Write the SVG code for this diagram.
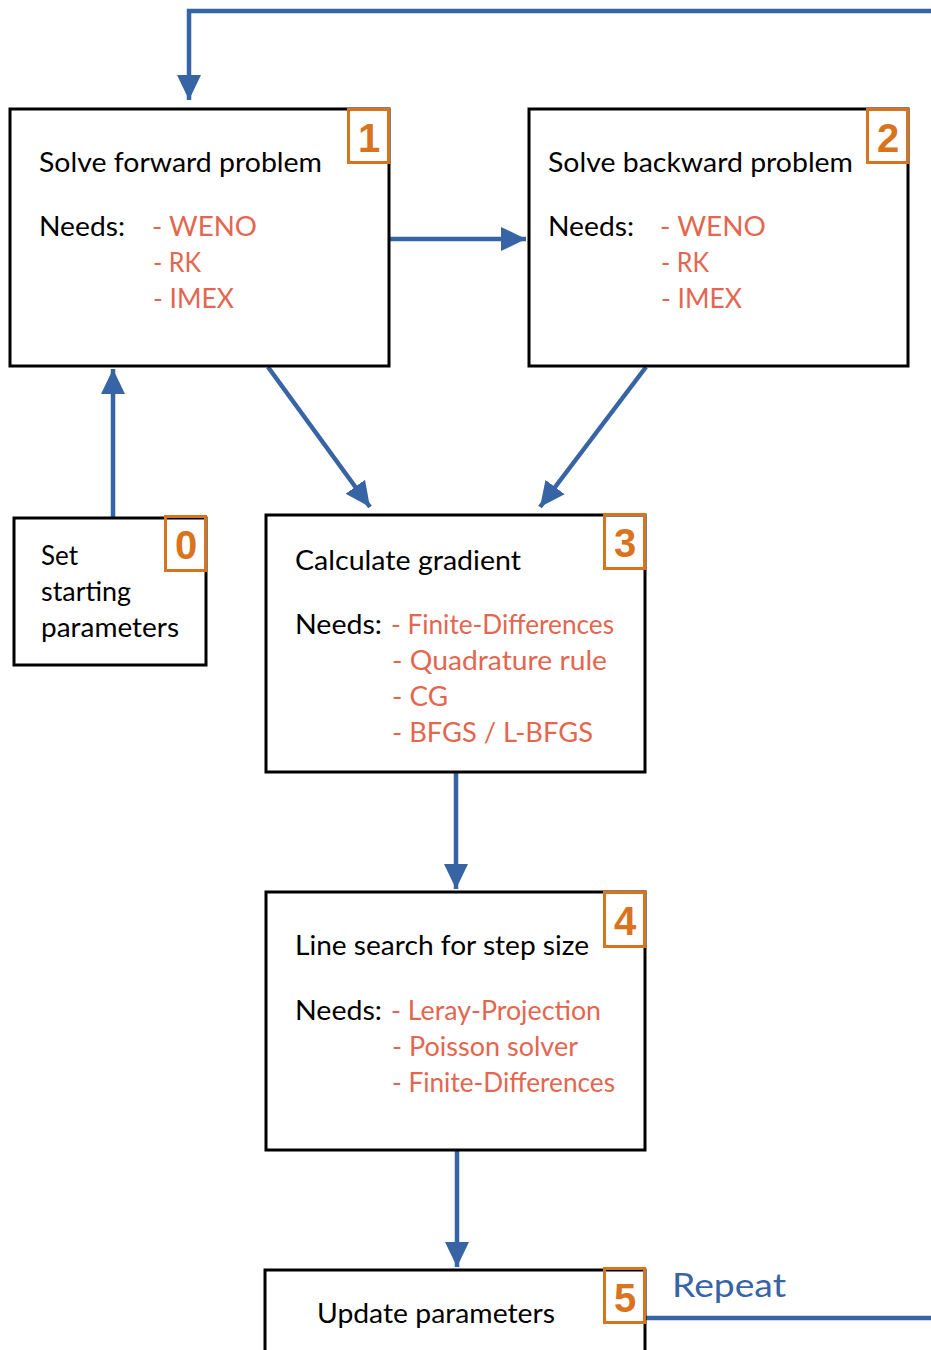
<svg xmlns="http://www.w3.org/2000/svg" width="931" height="1350" viewBox="0 0 931 1350">
<style>
.box{fill:#fff;stroke:#000;stroke-width:3}
.badge{fill:none;stroke:#D9731E;stroke-width:3}
.num{font-family:"Liberation Sans",Arial,sans-serif;font-weight:bold;font-size:40px;fill:#D9731E;text-anchor:middle}
.t{font-family:Lato,"Open Sans",sans-serif;font-size:27px;fill:#000}
.r{font-family:Lato,"Open Sans",sans-serif;font-size:27px;fill:#E4664F}
.con{fill:none;stroke:#3764A4;stroke-width:4.5}
.rep{font-family:Lato,"Open Sans",sans-serif;font-size:33px;fill:#3764A4}
</style>
<defs>
<marker id="ah" markerUnits="userSpaceOnUse" markerWidth="26" markerHeight="26" refX="25" refY="12" orient="auto" viewBox="0 0 26 24">
<path d="M0,0 L25,12 L0,24 Z" fill="#3764A4"/>
</marker>
</defs>
<g id="connectors">
<path class="con" d="M645,1318 H945 V11 H189 V100" marker-end="url(#ah)"/>
<path class="con" d="M389,239 H526" marker-end="url(#ah)"/>
<path class="con" d="M113,518 V369" marker-end="url(#ah)"/>
<path class="con" d="M268,367 L370,507" marker-end="url(#ah)"/>
<path class="con" d="M646,367 L540,507" marker-end="url(#ah)"/>
<path class="con" d="M456,772 V889" marker-end="url(#ah)"/>
<path class="con" d="M457,1150 V1267" marker-end="url(#ah)"/>
</g>
<g id="node1">
<rect class="box" x="10" y="109" width="379" height="257"/>
<rect class="badge" x="348.5" y="109.5" width="40" height="53"/>
<text class="num" x="369" y="152">1</text>
<text class="t" x="39" y="172" textLength="283" lengthAdjust="spacingAndGlyphs">Solve forward problem</text>
<text class="t" x="39" y="236" textLength="86" lengthAdjust="spacingAndGlyphs">Needs:</text>
<text class="r" x="152" y="236" textLength="105" lengthAdjust="spacingAndGlyphs">- WENO</text>
<text class="r" x="153" y="272" textLength="48" lengthAdjust="spacingAndGlyphs">- RK</text>
<text class="r" x="153" y="308" textLength="81" lengthAdjust="spacingAndGlyphs">- IMEX</text>
</g>
<g id="node2">
<rect class="box" x="529" y="109" width="379" height="257"/>
<rect class="badge" x="867.5" y="109.5" width="40" height="53"/>
<text class="num" x="888" y="152">2</text>
<text class="t" x="548" y="172" textLength="305" lengthAdjust="spacingAndGlyphs">Solve backward problem</text>
<text class="t" x="548" y="236" textLength="86" lengthAdjust="spacingAndGlyphs">Needs:</text>
<text class="r" x="660" y="236" textLength="106" lengthAdjust="spacingAndGlyphs">- WENO</text>
<text class="r" x="661" y="272" textLength="48" lengthAdjust="spacingAndGlyphs">- RK</text>
<text class="r" x="661" y="308" textLength="81" lengthAdjust="spacingAndGlyphs">- IMEX</text>
</g>
<g id="node0">
<rect class="box" x="14" y="518" width="192" height="147"/>
<rect class="badge" x="165.5" y="516.5" width="40" height="54"/>
<text class="num" x="186" y="559">0</text>
<text class="t" x="41" y="565" textLength="37" lengthAdjust="spacingAndGlyphs">Set</text>
<text class="t" x="41" y="601" textLength="90" lengthAdjust="spacingAndGlyphs">starting</text>
<text class="t" x="41" y="637" textLength="138" lengthAdjust="spacingAndGlyphs">parameters</text>
</g>
<g id="node3">
<rect class="box" x="266" y="515" width="379" height="257"/>
<rect class="badge" x="604.5" y="514.5" width="40" height="54"/>
<text class="num" x="625" y="557">3</text>
<text class="t" x="295" y="570" textLength="226" lengthAdjust="spacingAndGlyphs">Calculate gradient</text>
<text class="t" x="295" y="634" textLength="87" lengthAdjust="spacingAndGlyphs">Needs:</text>
<text class="r" x="391" y="634" textLength="223" lengthAdjust="spacingAndGlyphs">- Finite-Differences</text>
<text class="r" x="392" y="670" textLength="215" lengthAdjust="spacingAndGlyphs">- Quadrature rule</text>
<text class="r" x="392" y="706" textLength="56" lengthAdjust="spacingAndGlyphs">- CG</text>
<text class="r" x="392" y="742" textLength="201" lengthAdjust="spacingAndGlyphs">- BFGS / L-BFGS</text>
</g>
<g id="node4">
<rect class="box" x="266" y="892" width="379" height="258"/>
<rect class="badge" x="604.5" y="892.5" width="40" height="54"/>
<text class="num" x="625" y="935">4</text>
<text class="t" x="295" y="955" textLength="294" lengthAdjust="spacingAndGlyphs">Line search for step size</text>
<text class="t" x="295" y="1020" textLength="87" lengthAdjust="spacingAndGlyphs">Needs:</text>
<text class="r" x="391" y="1020" textLength="210" lengthAdjust="spacingAndGlyphs">- Leray-Projection</text>
<text class="r" x="392" y="1056" textLength="186" lengthAdjust="spacingAndGlyphs">- Poisson solver</text>
<text class="r" x="392" y="1092" textLength="223" lengthAdjust="spacingAndGlyphs">- Finite-Differences</text>
</g>
<g id="node5">
<rect class="box" x="265" y="1270" width="380" height="100"/>
<rect class="badge" x="604.5" y="1268.5" width="40" height="54"/>
<text class="num" x="625" y="1312">5</text>
<text class="t" x="317" y="1323" textLength="238" lengthAdjust="spacingAndGlyphs">Update parameters</text>
</g>
<text class="rep" x="672" y="1297" textLength="114" lengthAdjust="spacingAndGlyphs">Repeat</text>
</svg>
